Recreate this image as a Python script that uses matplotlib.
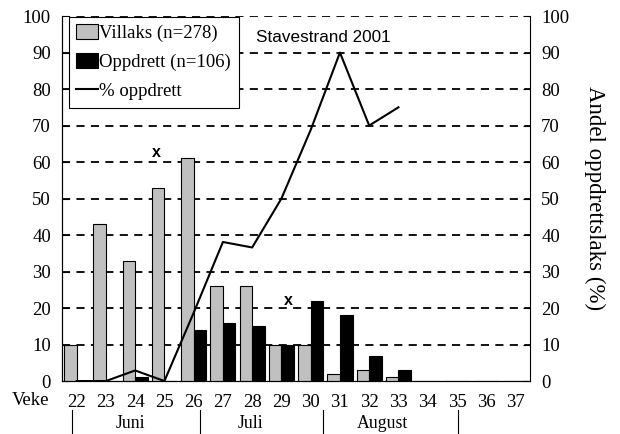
import matplotlib
matplotlib.use('Agg')
import matplotlib.pyplot as plt
import numpy as np

# data
weeks = [22, 23, 24, 25, 26, 27, 28, 29, 30, 31, 32, 33, 34, 35, 36, 37]
villaks = [10, 43, 33, 53, 61, 26, 26, 10, 10, 2, 3, 1, 0, 0, 0, 0]
oppdrett = [0, 0, 1, 0, 14, 16, 15, 10, 22, 18, 7, 3, 0, 0, 0, 0]
pct_weeks = [22, 23, 24, 25, 26, 27, 28, 29, 30, 31, 32, 33]
pct_oppdrett = [0, 0, 2.9, 0, 18.7, 38.1, 36.6, 50, 68.8, 90, 70, 75]

months = ['Juni', 'Juli', 'August']
month_pos = [1.84, 5.93, 10.47]      # in category units (week 22 = 0)
month_seps = [-0.15, 4.22, 8.41, 13.04]
x_marks = [(2.72, 62.5), (7.25, 22)]

serif = 'Liberation Serif'
sans = 'Liberation Sans'
fs = 13.5

fig = plt.figure(figsize=(6.2, 4.34), dpi=100)
ax = fig.add_axes([0.1, 0.122, 0.755, 0.841])

idx = np.arange(len(weeks))
w = 0.43
b1 = ax.bar(idx - w / 2, villaks, w, color='#c0c0c0', edgecolor='black',
            linewidth=0.8, label='Villaks (n=278)', zorder=3)
b2 = ax.bar(idx + w / 2, oppdrett, w, color='black', edgecolor='black',
            linewidth=0.8, label='Oppdrett (n=106)', zorder=3)
pidx = [weeks.index(wk) for wk in pct_weeks]
ln, = ax.plot(pidx, pct_oppdrett, color='black', lw=1.5, label='% oppdrett',
              zorder=4)

ax.set_xlim(-0.5, len(weeks) - 0.5)
ax.set_ylim(0, 100)
ax.set_yticks(range(0, 101, 10))
for y in range(10, 101, 10):
    ax.axhline(y, color='black', lw=1.3, ls=(0, (4.5, 3.5)), zorder=1)

ax.spines['top'].set_visible(False)
ax.spines['right'].set_visible(False)
ax.set_xticks(idx)
ax.set_xticklabels([str(wk) for wk in weeks], fontfamily=serif, fontsize=fs)
ax.tick_params(axis='x', length=0, pad=9)
ax.tick_params(axis='y', direction='in', length=5, labelsize=fs, pad=8)
for lbl in ax.get_yticklabels():
    lbl.set_fontfamily(serif)

ax2 = ax.twinx()
ax2.set_ylim(0, 100)
ax2.set_yticks(range(0, 101, 10))
ax2.tick_params(axis='y', direction='in', length=5, labelsize=fs, pad=8)
for lbl in ax2.get_yticklabels():
    lbl.set_fontfamily(serif)
ax2.spines['top'].set_visible(False)
ax2.set_ylabel('Andel oppdrettslaks (%)', rotation=270, fontfamily=serif,
               fontsize=16.5, labelpad=26)

leg = ax2.legend([b1, b2, ln], [b1.get_label(), b2.get_label(), ln.get_label()],
                 loc='upper left', bbox_to_anchor=(0.012, 1.0), frameon=True,
                 fancybox=False, prop={'family': serif, 'size': fs},
                 handlelength=1.15, handleheight=0.8, handletextpad=0.1,
                 labelspacing=0.6, borderpad=0.4, borderaxespad=0.05)
leg.get_frame().set_edgecolor('black')
leg.get_frame().set_linewidth(0.8)
leg.get_frame().set_alpha(1)

ax.text(0.415, 0.942, 'Stavestrand 2001', transform=ax.transAxes,
        fontfamily=sans, fontsize=12.3, va='center', ha='left', zorder=6)

for mx, my in x_marks:
    ax.text(mx, my, 'x', fontfamily=sans, fontsize=11.5, fontweight='bold',
            ha='center', va='center', zorder=6)

tr = ax.get_xaxis_transform()
ax.text(-0.92, -0.053, 'Veke', transform=tr, ha='right', va='center',
        fontfamily=serif, fontsize=fs)
for name, pos in zip(months, month_pos):
    ax.text(pos, -0.115, name, transform=tr, ha='center', va='center',
            fontfamily=serif, fontsize=12.8)
for sx in month_seps:
    ax.plot([sx, sx], [-0.08, -0.142], transform=tr, color='black', lw=0.8,
            clip_on=False)

fig.text(0.004, 0.54, 'Antall laks', rotation=90, ha='right', va='center',
         fontfamily=serif, fontsize=16.5, color='#999999')

fig.savefig('out.png', dpi=100)
